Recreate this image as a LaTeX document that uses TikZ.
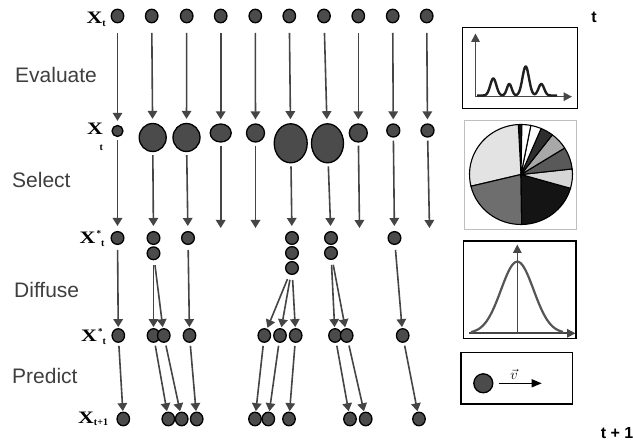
\documentclass[tikz,border=0pt]{standalone}
\usepackage{fontspec}
\setmainfont{Liberation Serif}
\newfontfamily\sanslab{Liberation Sans}
\newfontfamily\serifwide[FakeStretch=1.25]{Liberation Serif}
\usetikzlibrary{arrows.meta,shapes.geometric}

\definecolor{ballfill}{HTML}{4B4B4B}
\definecolor{linegrey}{HTML}{454545}
\definecolor{labelgrey}{HTML}{3F3F3F}
\definecolor{axisgrey}{HTML}{474747}
\definecolor{gaussgrey}{HTML}{555555}

\newcommand\subfont{\fontsize{10}{10}\rmfamily\bfseries\selectfont}
\newcommand\starfont{\fontsize{9}{9}\rmfamily\bfseries\selectfont}
% X with a raised star followed by a lowered t
\newcommand\xstar{X\hspace{1.2pt}\raisebox{7pt}{\starfont *}\raisebox{-3pt}{\subfont t}}

% one wedge of the pie chart: start angle, end angle, fill colour
\newcommand\pieslice[3]{%
  \filldraw[fill=#3, draw=black, line width=1.1pt, line join=round]
    (521,174.5) -- ++(-#1:51.5 and 50)
    arc[start angle=-#1, end angle=-#2, x radius=51.5, y radius=50] -- cycle;}

\tikzset{
  ball/.style 2 args={ellipse, draw=black, line width=1.3pt, fill=ballfill,
    inner sep=0pt, minimum width=#1, minimum height=#2},
  arr/.style={draw=linegrey, line width=1.6pt,
    -{Triangle[length=8pt,width=9.5pt]}},
  steplabel/.style={anchor=west, inner sep=0pt, text=labelgrey,
    font={\sanslab\fontsize{21}{24}\selectfont}},
  xlab/.style={anchor=base west, inner sep=0pt, text=black,
    font={\serifwide\bfseries\fontsize{17.5}{19}\selectfont}},
  smalllab/.style={anchor=base west, inner sep=0pt, text=black, font=\subfont},
  timelab/.style={inner sep=0pt, text=black,
    font={\sanslab\bfseries\fontsize{16}{18}\selectfont}},
  axisarr/.style={draw=axisgrey, line width=1.6pt,
    -{Triangle[length=8.5pt,width=8.5pt]}},
  panel/.style={draw=black, line width=1.4pt}
}

\begin{document}
\begin{tikzpicture}[x=1pt, y=-1pt]
\useasboundingbox (0,0) rectangle (633,443);
\fill[white] (0,0) rectangle (633,443);

% ---------- stage names ----------
\node[steplabel] (evaluate) at (15,74.5) {Evaluate};
\node[steplabel] (select)   at (12,180)  {Select};
\node[steplabel] (diffuse)  at (14,290)  {Diffuse};
\node[steplabel] (predict)  at (12,376)  {Predict};

% ---------- row labels ----------
\node[xlab] (lx1) at (86.5,23.3) {X\raisebox{-3.5pt}{\subfont t}};
\node[xlab] (lx2) at (87,135) {X};
\node[smalllab] (lt2) at (99.5,151) {t};
\node[xlab] (lx3) at (79.5,244) {\xstar};
\node[xlab] (lx4) at (81,341.7) {\xstar};
\node[xlab] (lx5) at (78,424) {X\raisebox{-2pt}{\subfont t+1}};

\node[timelab] (tnow)  at (594,17) {t};
\node[timelab, anchor=east] (tnext) at (633.5,433) {t + 1};

% ---------- row 1: particles at time t ----------
\foreach \n/\x in {1/117.5,2/151.7,3/186.7,4/220.7,5/255.3,6/289.3,7/324,8/358.3,9/392.7,10/426.7}
  \node[ball={12.5pt}{13.5pt}] (r\n) at (\x,16) {};

% ---------- row 2: weighted particles ----------
\node[ball={11pt}{11pt}]     (w1)  at (117.5,131) {};
\node[ball={27pt}{28pt}]     (w2)  at (152.7,137.5) {};
\node[ball={27pt}{28pt}]     (w3)  at (186.5,137.5) {};
\node[ball={21pt}{18pt}]     (w4)  at (220.7,133) {};
\node[ball={18pt}{18pt}]     (w5)  at (255.5,133) {};
\node[ball={33pt}{39pt}]     (w6)  at (290.7,143.3) {};
\node[ball={32pt}{39pt}]     (w7)  at (327.5,143.3) {};
\node[ball={18pt}{18pt}]     (w8)  at (358.3,133) {};
\node[ball={13pt}{13pt}]     (w9)  at (393.3,130.5) {};
\node[ball={13pt}{13pt}]     (w10) at (427.5,130.5) {};

\foreach \n in {1,...,10}
  \draw[arr, shorten <=9.5pt, shorten >=4pt] (r\n) -- (w\n);

% ---------- row 3: selected particles ----------
\foreach \n/\x/\y in {1/117.5/238, 2a/153.5/238, 2b/153.5/253.3, 3/188/238,
    6a/292/238, 6b/292/253, 6c/292/268, 7a/331/238, 7b/331/253, 9/394.5/238}
  \node[ball={12.7pt}{12.7pt}] (s\n) at (\x,\y) {};

\coordinate (e4)  at (220.7,228);
\coordinate (e5)  at (255.5,228);
\coordinate (e8)  at (359.5,228);
\coordinate (e10) at (429.5,228);

\foreach \a/\b in {w1/s1, w2/s2a, w3/s3, w6/s6a, w7/s7a, w9/s9}
  \draw[arr, shorten <=3pt, shorten >=5pt] (\a) -- (\b);
\foreach \a/\b in {w4/e4, w5/e5, w8/e8, w10/e10}
  \draw[arr, shorten <=3pt] (\a) -- (\b);

% ---------- row 4: diffused particles ----------
\foreach \n/\x in {1/118.3, 2/153.5, 3/163.8, 4/189.5, 5/264.3, 6/280, 7/295.7,
    8/335, 9/346.7, 10/402.7}
  \node[ball={12.5pt}{13.5pt}] (p\n) at (\x,335.5) {};

\foreach \a/\b in {s1/p1, s2b/p2, s2b/p3, s3/p4, s6c/p5, s6c/p6, s6c/p7,
    s7b/p8, s7b/p9, s9/p10}
  \draw[arr, shorten <=5pt, shorten >=1pt] (\a) -- (\b);

% ---------- row 5: predicted particles at time t+1 ----------
\foreach \n/\x in {1/123.3, 2/168.3, 3/181.7, 4/196.7, 5/255, 6/268.3, 7/289,
    8/350, 9/365.7, 10/419}
  \node[ball={12.5pt}{13.5pt}] (q\n) at (\x,419) {};

\foreach \n in {1,...,10}
  \draw[arr, shorten <=3pt, shorten >=0.5pt] (p\n) -- (q\n);

% ---------- panel: likelihood curve ----------
\draw[panel] (462.5,27.5) rectangle (577.5,108.5);
\draw[axisarr] (475.5,96.7) -- (475.5,33.5);
\draw[axisarr] (475.5,96.7) -- (572,96.7);
\draw[draw=black!88, line width=2.4pt, line join=round]
  plot[domain=477:557, samples=200]
  (\x, {95.5 - 17*exp(-min(((\x-493.3)/4.3)^2,30))
              - 11.5*exp(-min(((\x-509.3)/3.4)^2,30))
              - 29*exp(-min(((\x-525.7)/4.6)^2,30))
              - 11.5*exp(-min(((\x-541.3)/4)^2,30))});

% ---------- panel: pie chart of weights ----------
\draw[draw=black!25, line width=1pt] (464.5,120.5) rectangle (576.5,229.5);
\pieslice{89}{93}{black!93}
\pieslice{93}{193.6}{black!11}
\pieslice{193.6}{270.8}{black!57}
\pieslice{270.8}{344}{black!92}
\pieslice{344}{366.4}{black!16}
\pieslice{6.4}{32}{black!65}
\pieslice{32}{52.5}{black!34}
\pieslice{52.5}{67}{black!82}
\pieslice{67}{79}{white}
\pieslice{79}{89}{white}

% ---------- panel: diffusion kernel ----------
\draw[panel] (463.5,241) rectangle (576,338.5);
\draw[axisarr] (517.3,333.3) -- (517.3,244.5);
\draw[axisarr] (469,333.3) -- (575.5,333.3);
\draw[draw=gaussgrey, line width=2.2pt]
  plot[domain=471:563, samples=120]
  (\x, {333.3 - 71.6*exp(-0.5*(((\x-517.3)/16.3)^2))});

% ---------- panel: motion prediction ----------
\draw[panel] (461,352.7) rectangle (572.7,404);
\node[ball={19pt}{19pt}] (vb) at (483.3,383.3) {};
\coordinate (vtip) at (541.7,383.3);
\draw[draw=black, line width=1.3pt, -{Triangle[length=10pt,width=8pt]},
  shorten <=5.5pt] (vb) -- (vtip);
\node[inner sep=0pt, font=\fontsize{14}{16}\selectfont] (vlab) at (514,374) {$\vec{v}$};

\end{tikzpicture}
\end{document}
